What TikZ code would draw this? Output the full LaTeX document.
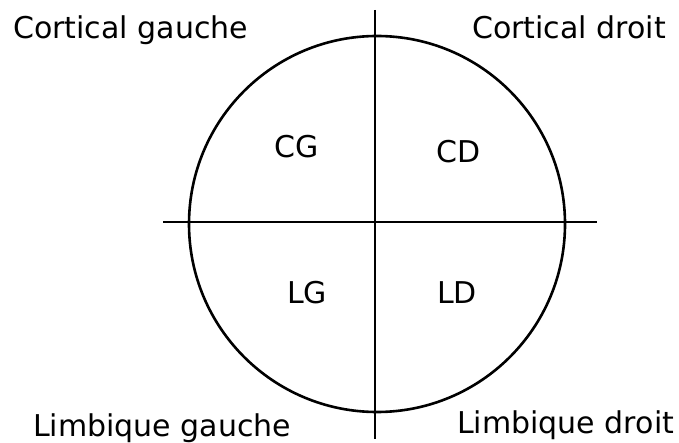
\documentclass[tikz,border=0pt]{standalone}
\usepackage{fontspec}
\setmainfont{DejaVu Sans}
\begin{document}
\begin{tikzpicture}[x=1pt, y=-1pt,
    lbl/.style={font=\fontsize{30}{36}\selectfont, inner sep=0pt},
    axe/.style={line width=2.6pt}]
    \useasboundingbox (0,0) rectangle (679,443);

    % Cercle
    \draw[axe] (377,224) circle (188);

    % Axes
    \coordinate (haut) at (375,10);
    \coordinate (bas) at (375,439);
    \coordinate (gauche) at (163,222);
    \coordinate (droite) at (597,222);
    \draw[axe] (haut) -- (bas);
    \draw[axe] (gauche) -- (droite);

    % Quadrants
    \node[lbl, anchor=base] (cg) at (297,158) {CG};
    \node[lbl, anchor=base] (cd) at (459,163) {CD};
    \node[lbl, anchor=base] (lg) at (307,303) {LG};
    \node[lbl, anchor=base] (ld) at (457,303) {LD};

    % Titres
    \node[lbl, anchor=base west] (cortg) at (13,39) {Cortical gauche};
    \node[lbl, anchor=base west] (cortd) at (472,39) {Cortical droit};
    \node[lbl, anchor=base west] (limbg) at (33,436) {Limbique gauche};
    \node[lbl, anchor=base west] (limbd) at (457,433) {Limbique droit};
\end{tikzpicture}
\end{document}
